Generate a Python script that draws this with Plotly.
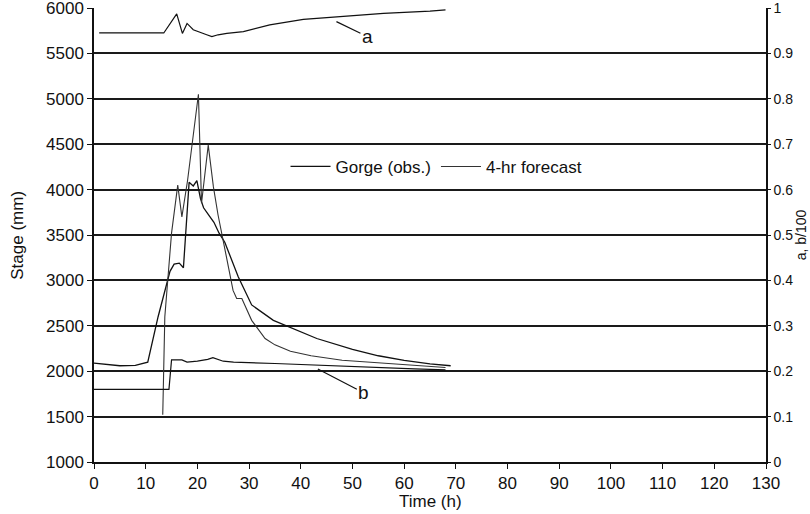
import plotly.graph_objects as go

# Observed stage (Gorge) - time (h), stage (mm)
obs_t = [0, 2, 5, 8, 10.4, 12.4, 14.7, 15.5, 16.5, 17.3, 18.4, 19.2, 19.9, 20.6, 21.2, 22.2, 23.2, 24.2,
         25.3, 27.9, 30.5, 34.7, 38.5, 43.1, 50, 55, 60, 65, 69]
obs_s = [2090, 2075, 2060, 2065, 2100, 2600, 3100, 3180, 3190, 3140, 4080, 4040, 4100, 3900, 3800, 3720, 3640, 3520,
         3420, 3040, 2730, 2560, 2470, 2360, 2240, 2170, 2120, 2080, 2060]

# 4-hr forecast
fc_t = [13.3, 13.7, 15.0, 16.2, 17.0, 18.1, 20.2, 20.8, 22.1, 23.1, 24.0, 25.0, 26.0, 26.9, 27.6, 28.6,
        30.5, 33.1, 35, 38, 42, 48, 55, 62, 68]
fc_s = [1520, 2600, 3520, 4050, 3700, 4100, 5050, 3850, 4490, 4030, 3720, 3450, 3150, 2890, 2800, 2800,
        2560, 2360, 2290, 2220, 2170, 2120, 2090, 2060, 2040]

# parameter a (right axis)
a_t = [1, 13.5, 16.0, 17.1, 18.0, 19.2, 21.8, 22.8, 24.0, 25.7, 28.9, 34.0, 40.5, 46.9, 56.0, 65.0, 68]
a_v = [0.945, 0.945, 0.987, 0.944, 0.966, 0.952, 0.941, 0.937, 0.941, 0.944, 0.948, 0.963, 0.975, 0.981,
       0.988, 0.993, 0.996]

# parameter b/100 (right axis)
b_t = [0, 14.5, 15.0, 17, 18, 20, 22, 23, 25, 27, 35, 45, 55, 62, 68]
b_v = [0.16, 0.16, 0.225, 0.225, 0.22, 0.222, 0.226, 0.23, 0.222, 0.22, 0.217, 0.212, 0.207, 0.205, 0.203]

x_ticks = list(range(0, 131, 10))
y_ticks = list(range(1000, 6001, 500))
y2_ticks = [round(i * 0.1, 1) for i in range(11)]
y2_labels = ["0", "0.1", "0.2", "0.3", "0.4", "0.5", "0.6", "0.7", "0.8", "0.9", "1"]

FONT = "Liberation Sans, Arial, sans-serif"
FS = 17

fig = go.Figure()
fig.add_trace(go.Scatter(x=obs_t, y=obs_s, mode="lines", name="Gorge (obs.)",
                         line=dict(color="#111111", width=1.3)))
fig.add_trace(go.Scatter(x=fc_t, y=fc_s, mode="lines", name="4-hr forecast",
                         line=dict(color="#333333", width=1.1)))
fig.add_trace(go.Scatter(x=a_t, y=a_v, mode="lines", yaxis="y2", showlegend=False,
                         line=dict(color="#111111", width=1.2)))
fig.add_trace(go.Scatter(x=b_t, y=b_v, mode="lines", yaxis="y2", showlegend=False,
                         line=dict(color="#111111", width=1.2)))

axis_common = dict(showline=True, linecolor="#111111", linewidth=1.5, zeroline=False,
                   ticks="outside", tickcolor="#111111", automargin=False)

fig.update_layout(
    width=810, height=514,
    margin=dict(l=94, r=44, t=8, b=52, autoexpand=False),
    paper_bgcolor="white", plot_bgcolor="white",
    font=dict(family=FONT, size=FS, color="#111111"),
    showlegend=True,
    legend=dict(orientation="h", x=0.285, y=0.65, xanchor="left", yanchor="middle",
                bgcolor="rgba(0,0,0,0)", font=dict(size=FS), itemwidth=40,
                tracegroupgap=0),
    xaxis=dict(range=[0, 130], tickvals=x_ticks, showgrid=False, tickfont=dict(size=FS),
               ticklen=5, **axis_common),
    yaxis=dict(range=[1000, 6000], tickvals=y_ticks, showgrid=True, gridcolor="#1a1a1a",
               gridwidth=1.7, ticklabeloverflow="allow", tickfont=dict(size=FS), ticklen=5,
               **axis_common),
    yaxis2=dict(range=[0, 1], tickvals=y2_ticks, ticktext=y2_labels, overlaying="y", side="right",
                showgrid=False, ticklabeloverflow="allow", tickfont=dict(size=14), ticklen=3,
                **axis_common),
    annotations=[
        dict(text="Stage (mm)", xref="paper", yref="paper", x=-0.115, y=0.5, textangle=-90,
             showarrow=False, font=dict(size=FS), xanchor="center", yanchor="middle"),
        dict(text="a, b/100", xref="paper", yref="paper", x=1.0525, y=0.5, textangle=-90,
             showarrow=False, font=dict(size=14), xanchor="center", yanchor="middle"),
        dict(text="Time (h)", xref="paper", yref="paper", x=0.5, y=-0.062,
             showarrow=False, font=dict(size=FS), xanchor="center", yanchor="top"),
        dict(text="a", x=46.9, y=0.970, xref="x", yref="y2", showarrow=True, arrowhead=0,
             arrowwidth=1.2, arrowcolor="#111111", ax=31, ay=15, font=dict(size=19)),
        dict(text="b", x=43.3, y=0.205, xref="x", yref="y2", showarrow=True, arrowhead=0,
             arrowwidth=1.2, arrowcolor="#111111", ax=46, ay=24, font=dict(size=19)),
    ],
)

fig.write_html("out.html", config={"displayModeBar": False},
               post_script="document.body.style.margin='0';document.body.style.padding='0';")
